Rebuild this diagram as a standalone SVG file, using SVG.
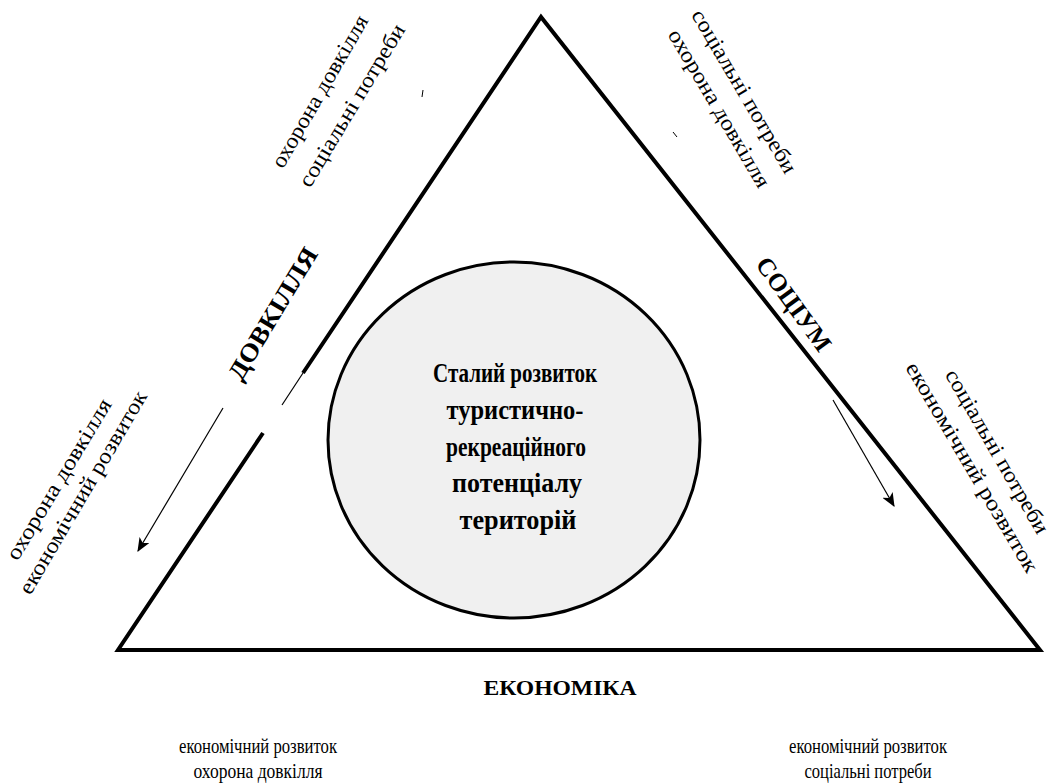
<svg xmlns="http://www.w3.org/2000/svg" width="1047" height="783" viewBox="0 0 1047 783">
<defs>
<style>
text{font-family:'Liberation Serif','DejaVu Serif','Times New Roman',serif;fill:#000;}
.n{font-size:22px;}
.b{font-weight:bold;}
.c{text-anchor:middle;}
</style>
<marker id="ah" viewBox="0 0 12 10" refX="11" refY="5" markerWidth="14" markerHeight="12" markerUnits="userSpaceOnUse" orient="auto">
<path d="M0,0 L12,5 L0,10 L3,5 z" fill="#000"/>
</marker>
</defs>
<rect width="1047" height="783" fill="#fff"/>
<g id="connectors">
<path d="M263,433 L118,650 L1040,650 L541,17 L303,373" fill="none" stroke="#000" stroke-width="4" stroke-linejoin="miter"/>
<line x1="303" y1="373" x2="282" y2="405" stroke="#000" stroke-width="1.2"/>
<line x1="223" y1="408" x2="138" y2="551" stroke="#000" stroke-width="1.2" marker-end="url(#ah)"/>
<line x1="833" y1="400" x2="894" y2="506" stroke="#000" stroke-width="1.2" marker-end="url(#ah)"/>
<line x1="423" y1="90" x2="422" y2="97" stroke="#000" stroke-width="1"/>
<line x1="673" y1="132" x2="677" y2="137" stroke="#000" stroke-width="1"/>
</g>
<g id="center">
<ellipse cx="514" cy="440" rx="186" ry="178" fill="#f0f0f0" stroke="#000" stroke-width="3"/>
<text class="b c" font-size="28" x="515" y="382" textLength="164" lengthAdjust="spacingAndGlyphs">Сталий розвиток</text>
<text class="b c" font-size="28" x="515" y="419" textLength="137" lengthAdjust="spacingAndGlyphs">туристично-</text>
<text class="b c" font-size="28" x="516" y="456" textLength="140" lengthAdjust="spacingAndGlyphs">рекреаційного</text>
<text class="b c" font-size="28" x="517" y="492" textLength="130" lengthAdjust="spacingAndGlyphs">потенціалу</text>
<text class="b c" font-size="28" x="518" y="529" textLength="117" lengthAdjust="spacingAndGlyphs">територій</text>
</g>
<g id="dovkillia">
<text class="b c" font-size="25" transform="translate(280,318) rotate(-59)" textLength="150" lengthAdjust="spacingAndGlyphs">ДОВКІЛЛЯ</text>
</g>
<g id="sotsium">
<text class="b c" font-size="25" transform="translate(787,309) rotate(54)" textLength="110" lengthAdjust="spacingAndGlyphs">СОЦІУМ</text>
</g>
<g id="ekonomika">
<text class="b c" font-size="20" x="560" y="695" textLength="153" lengthAdjust="spacingAndGlyphs">ЕКОНОМІКА</text>
</g>
<g id="top-left-label">
<text class="n c" transform="translate(326,95) rotate(-60)" textLength="172" lengthAdjust="spacingAndGlyphs">охорона довкілля</text>
<text class="n c" transform="translate(358,109) rotate(-59)" textLength="186" lengthAdjust="spacingAndGlyphs">соціальні потреби</text>
</g>
<g id="top-right-label">
<text class="n c" transform="translate(738,95) rotate(59.5)" textLength="186" lengthAdjust="spacingAndGlyphs">соціальні потреби</text>
<text class="n c" transform="translate(713,112) rotate(59.5)" textLength="180" lengthAdjust="spacingAndGlyphs">охорона довкілля</text>
</g>
<g id="left-label">
<text class="n c" transform="translate(65,483) rotate(-59)" textLength="184" lengthAdjust="spacingAndGlyphs">охорона довкілля</text>
<text class="n c" transform="translate(89,496) rotate(-59.5)" textLength="232" lengthAdjust="spacingAndGlyphs">економічний розвиток</text>
</g>
<g id="right-label">
<text class="n c" transform="translate(991,455) rotate(60)" textLength="186" lengthAdjust="spacingAndGlyphs">соціальні потреби</text>
<text class="n c" transform="translate(966,471) rotate(59.5)" textLength="240" lengthAdjust="spacingAndGlyphs">економічний розвиток</text>
</g>
<g id="bottom-left-label">
<text class="c" font-size="21" x="258" y="753" textLength="158" lengthAdjust="spacingAndGlyphs">економічний розвиток</text>
<text class="c" font-size="21" x="258" y="778" textLength="129" lengthAdjust="spacingAndGlyphs">охорона довкілля</text>
</g>
<g id="bottom-right-label">
<text class="c" font-size="21" x="868" y="753" textLength="158" lengthAdjust="spacingAndGlyphs">економічний розвиток</text>
<text class="c" font-size="21" x="868" y="778" textLength="127" lengthAdjust="spacingAndGlyphs">соціальні потреби</text>
</g>
</svg>
